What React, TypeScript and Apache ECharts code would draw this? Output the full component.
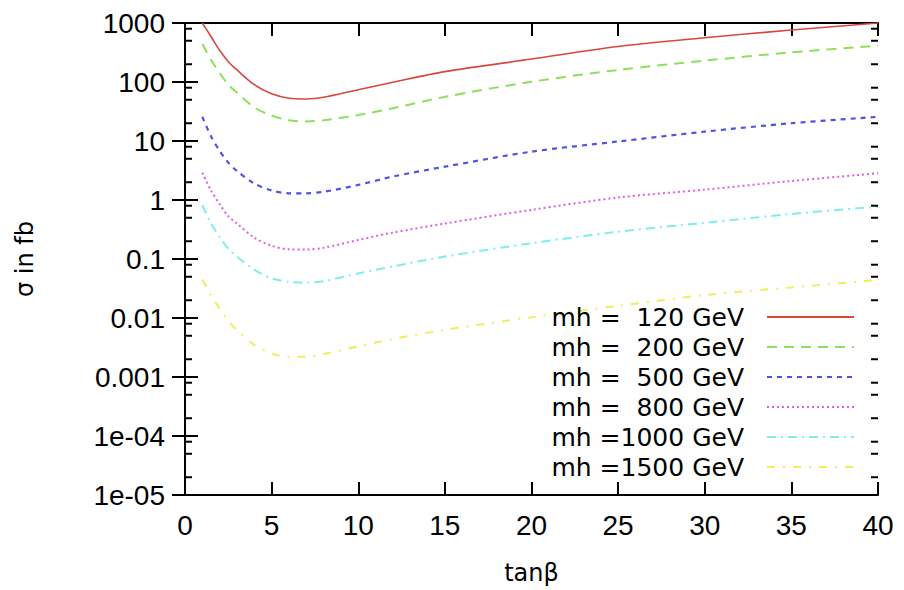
import React, { useEffect, useRef } from "react";
import * as echarts from "echarts";

const tanBeta = [1, 1.5, 2, 2.5, 3, 4, 5, 6, 7, 8, 10, 12, 15, 20, 25, 30, 35, 40];

const sigma120 = [1000, 590, 345, 221, 160, 90, 63, 53, 51.5, 55, 74, 99, 150, 245, 400, 563, 760, 1000];
const sigma200 = [440, 238, 142, 90, 66, 37, 27, 22.5, 21.5, 22.5, 27.5, 36, 56, 101, 160, 230, 318, 412];
const sigma500 = [25.8, 12, 6.8, 4.3, 3.1, 1.9, 1.45, 1.3, 1.3, 1.38, 1.8, 2.5, 3.67, 6.6, 9.8, 14.4, 20, 25.7];
const sigma800 = [2.9, 1.45, 0.85, 0.53, 0.4, 0.23, 0.168, 0.146, 0.145, 0.155, 0.21, 0.28, 0.4, 0.68, 1.1, 1.5, 2.1, 2.84];
const sigma1000 = [0.82, 0.4, 0.235, 0.15, 0.11, 0.066, 0.047, 0.041, 0.04, 0.042, 0.057, 0.075, 0.11, 0.185, 0.29, 0.41, 0.58, 0.77];
const sigma1500 = [0.045, 0.024, 0.0145, 0.009, 0.0062, 0.0035, 0.0025, 0.0022, 0.0022, 0.00245, 0.0033, 0.0044, 0.0063, 0.0103, 0.016, 0.0245, 0.033, 0.044];

const seriesNames = [
  "mh =  120 GeV",
  "mh =  200 GeV",
  "mh =  500 GeV",
  "mh =  800 GeV",
  "mh =1000 GeV",
  "mh =1500 GeV",
];
const seriesValues = [sigma120, sigma200, sigma500, sigma800, sigma1000, sigma1500];

const yTickLabels = ["1e-05", "1e-04", "0.001", "0.01", "0.1", "1", "10", "100", "1000"];
const xTickLabels = ["0", "5", "10", "15", "20", "25", "30", "35", "40"];

// minor ticks of the log axis (2x, 5x, 8x each decade)
const minorTickMultipliers = [2, 5, 8];
const minorTickValues: number[] = [];
for (let e = -5; e < 3; e++) {
  minorTickMultipliers.forEach((m) => minorTickValues.push(m * Math.pow(10, e)));
}

const seriesColors = ["#d8473c", "#8ee05c", "#5252e2", "#de5ede", "#7eeeee", "#f0ee5a"];
const seriesDash: any[] = ["solid", [10, 7], [5, 5], [2, 3], [9, 5, 2, 5], [8, 8, 2, 8]];
const seriesWidth = [1.6, 2, 2.2, 2, 2, 2];

export default function App() {
  const ref = useRef<HTMLDivElement>(null);
  useEffect(() => {
    if (!ref.current) return;
    const chart = echarts.init(ref.current, undefined, { renderer: "svg" });
    const tickFont = { fontFamily: "Liberation Sans", fontSize: 28, color: "#000" };
    const lineSeries = seriesNames.map((name, i) => ({
      name,
      type: "line",
      data: tanBeta.map((t, j) => [t, seriesValues[i][j]]),
      smooth: 0.3,
      symbol: "none",
      lineStyle: { color: seriesColors[i], width: seriesWidth[i], type: seriesDash[i] },
      itemStyle: { color: seriesColors[i] },
      clip: true,
      z: 3,
    }));
    chart.setOption({
      animation: false,
      backgroundColor: "#fff",
      grid: { left: 185, right: 26, top: 23, bottom: 95, containLabel: false },
      legend: {
        data: seriesNames,
        orient: "vertical",
        right: 44,
        top: 297,
        align: "right",
        itemWidth: 87,
        itemHeight: 2,
        itemGap: 0,
        itemStyle: { opacity: 0 },
        textStyle: {
          fontFamily: "DejaVu Sans",
          fontSize: 25,
          color: "#000",
          lineHeight: 30,
          padding: [0, 18, 0, 0],
        },
      },
      xAxis: [
        {
          type: "value",
          min: 0,
          max: 40,
          interval: 5,
          position: "bottom",
          name: "tanβ",
          nameLocation: "middle",
          nameGap: 66,
          nameTextStyle: { fontFamily: "DejaVu Sans", fontSize: 24, color: "#000" },
          axisLine: { lineStyle: { color: "#000", width: 2 } },
          axisTick: { inside: true, length: 13, lineStyle: { color: "#000", width: 2 } },
          axisLabel: {
            ...tickFont,
            margin: 16,
            formatter: (v: number) => xTickLabels[Math.round(v / 5)] ?? String(v),
          },
          splitLine: { show: false },
        },
        {
          type: "value",
          min: 0,
          max: 40,
          interval: 5,
          position: "top",
          axisLine: { lineStyle: { color: "#000", width: 2 } },
          axisTick: { inside: true, length: 13, lineStyle: { color: "#000", width: 2 } },
          axisLabel: { show: false },
          splitLine: { show: false },
        },
      ],
      yAxis: [
        {
          type: "log",
          logBase: 10,
          min: 1e-5,
          max: 1000,
          splitNumber: 8,
          position: "left",
          name: "σ in fb",
          nameLocation: "middle",
          nameGap: 148,
          nameTextStyle: { fontFamily: "DejaVu Sans", fontSize: 24, color: "#000" },
          axisLine: { show: true, lineStyle: { color: "#000", width: 2 } },
          axisTick: { inside: true, length: 13, lineStyle: { color: "#000", width: 2 } },
          axisLabel: {
            ...tickFont,
            margin: 20,
            showMinLabel: true,
            showMaxLabel: true,
            formatter: (v: number) => yTickLabels[Math.round(Math.log10(v)) + 5] ?? String(v),
          },
          splitLine: { show: false },
        },
        {
          type: "log",
          logBase: 10,
          min: 1e-5,
          max: 1000,
          splitNumber: 8,
          position: "right",
          axisLine: { show: true, lineStyle: { color: "#000", width: 2 } },
          axisTick: { inside: true, length: 13, lineStyle: { color: "#000", width: 2 } },
          axisLabel: { show: false },
          splitLine: { show: false },
        },
      ],
      series: [
        ...lineSeries,
        {
          name: "minorTicks",
          type: "custom",
          silent: true,
          clip: false,
          data: minorTickValues.map((v) => [0, v]),
          renderItem: (params: any, api: any) => {
            const v = api.value(1);
            const p1 = api.coord([0, v]);
            const p2 = api.coord([40, v]);
            const style = { stroke: "#000", lineWidth: 2 };
            return {
              type: "group",
              children: [
                { type: "line", shape: { x1: p1[0], y1: p1[1], x2: p1[0] + 7, y2: p1[1] }, style },
                { type: "line", shape: { x1: p2[0] - 7, y1: p2[1], x2: p2[0], y2: p2[1] }, style },
              ],
            };
          },
          z: 4,
        },
      ],
    });
    return () => chart.dispose();
  }, []);
  return (
    <div
      ref={ref}
      style={{ position: "absolute", left: 0, top: 0, width: 904, height: 590 }}
    />
  );
}
